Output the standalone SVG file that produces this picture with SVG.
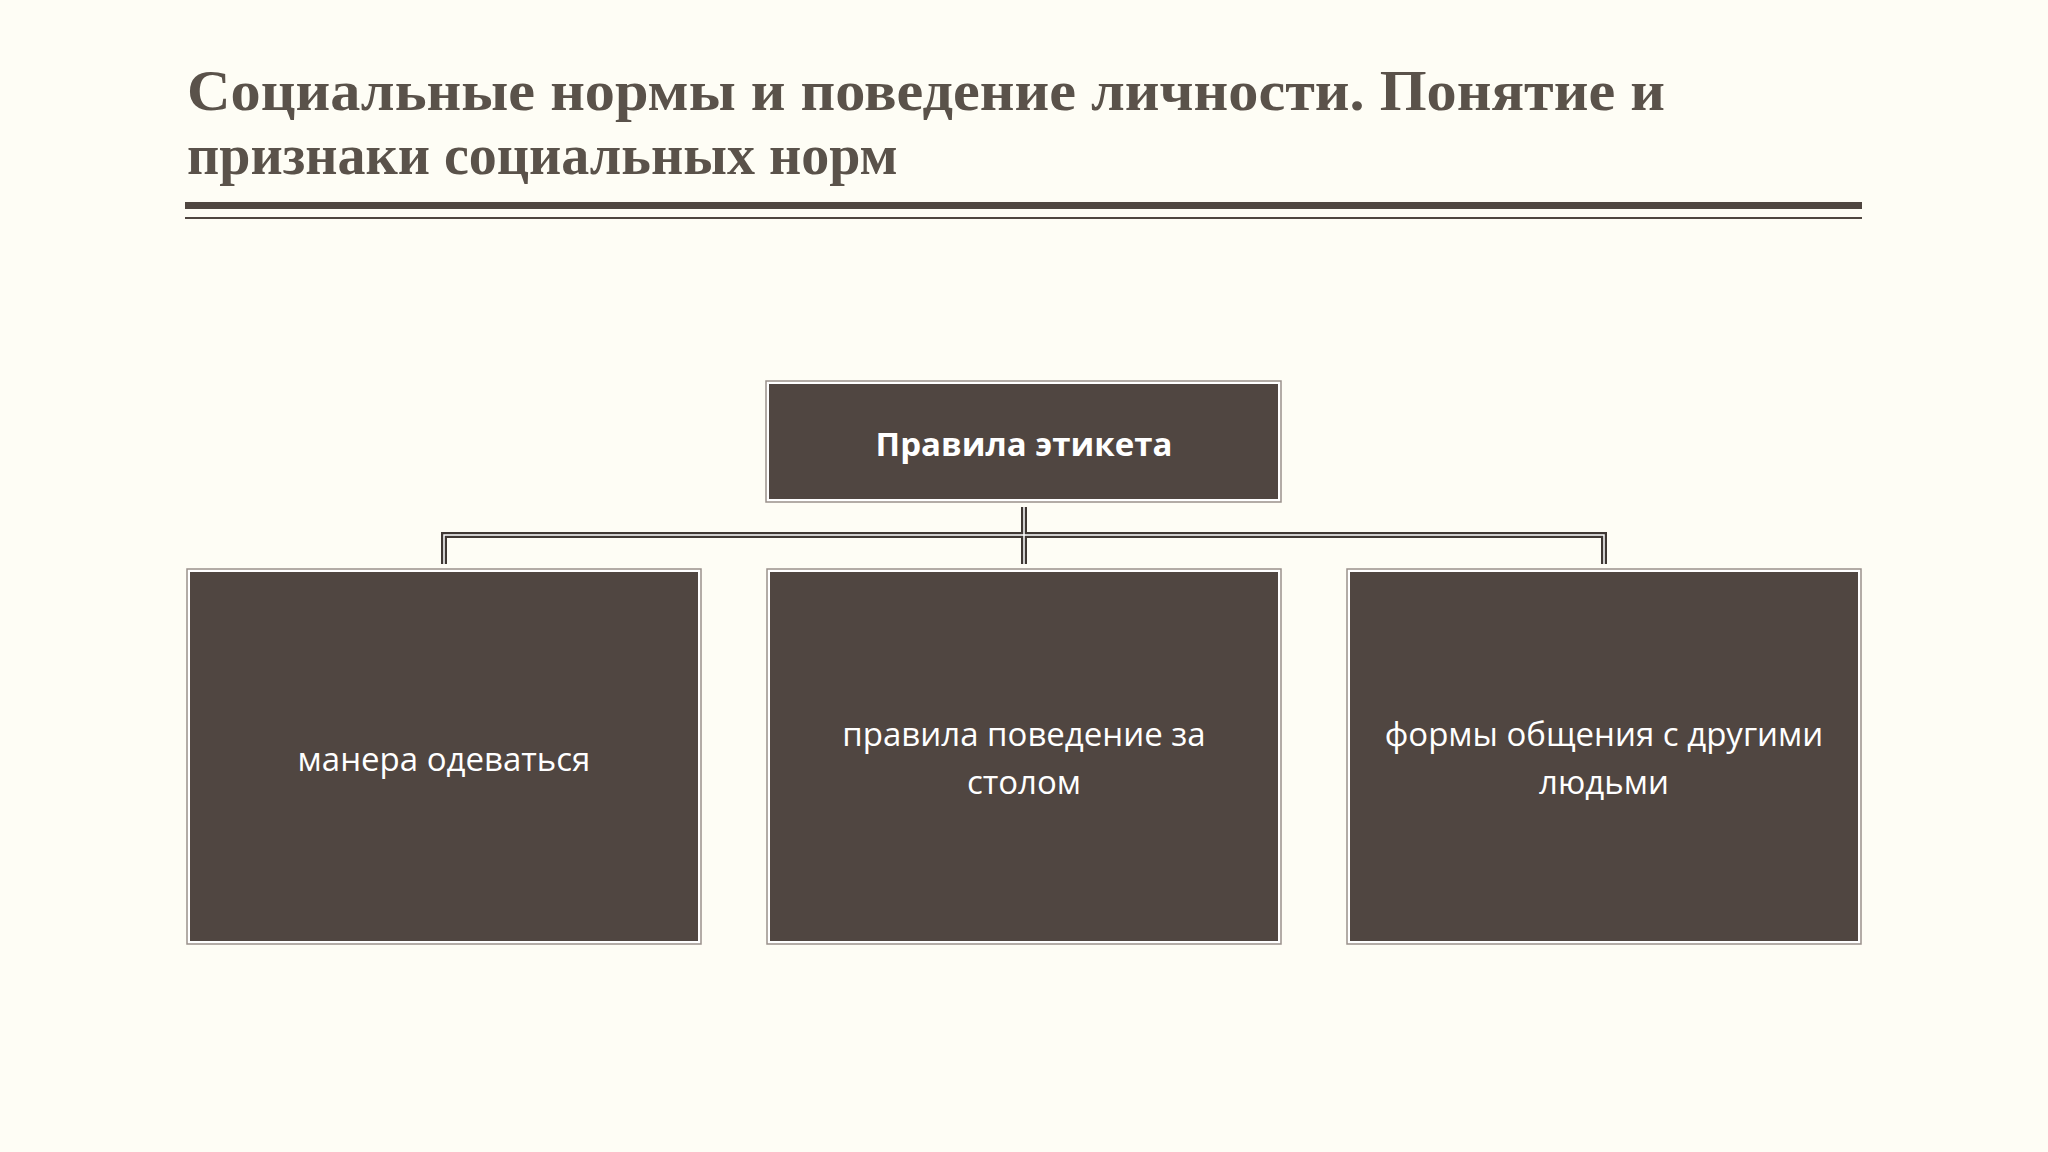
<svg xmlns="http://www.w3.org/2000/svg" width="2048" height="1152" viewBox="0 0 2048 1152">
<defs><style>
.box{fill:#504641;stroke:#ffffff;stroke-width:2;}
.edge{fill:none;stroke:#9a918c;stroke-width:1.5;}
.t{font-family:"Open Sans","Noto Sans","DejaVu Sans",sans-serif;fill:#ffffff;font-size:33px;text-anchor:middle;}
.title{font-family:"Liberation Serif","DejaVu Serif",serif;font-size:56px;font-weight:bold;fill:#5a524a;}
.c1{fill:none;stroke:#3f3834;stroke-width:6;}
.c2{fill:none;stroke:#ffffff;stroke-width:1.5;}
</style></defs>
<rect width="2048" height="1152" fill="#fefdf5"/>
<g id="title">
<text class="title" x="187" y="110" textLength="1478" lengthAdjust="spacingAndGlyphs">Социальные нормы и поведение личности. Понятие и</text>
<text class="title" x="187" y="174">признаки социальных норм</text>
<rect x="185" y="202" width="1677" height="7" fill="#4f4640"/>
<rect x="185" y="217" width="1677" height="2" fill="#4f4640"/>
</g>
<g id="connectors">
<path class="c1" d="M444 564 V535 H1604 V564 M1024 507 V564"/>
<path class="c2" d="M444 564 V535 H1604 V564 M1024 507 V564"/>
</g>
<g id="top">
<rect x="766" y="381" width="515" height="121" class="edge"/>
<rect x="768" y="383" width="511" height="117" class="box"/>
<text class="t" x="1024" y="456" font-weight="bold" font-size="36">Правила  этикета</text>
</g>
<g id="n1">
<rect x="187" y="569" width="514" height="375" class="edge"/>
<rect x="189" y="571" width="510" height="371" class="box"/>
<text class="t" x="444" y="771">манера  одеваться</text>
</g>
<g id="n2">
<rect x="767" y="569" width="514" height="375" class="edge"/>
<rect x="769" y="571" width="510" height="371" class="box"/>
<text class="t" x="1024" y="746">правила  поведение  за</text>
<text class="t" x="1024" y="794">столом</text>
</g>
<g id="n3">
<rect x="1347" y="569" width="514" height="375" class="edge"/>
<rect x="1349" y="571" width="510" height="371" class="box"/>
<text class="t" x="1604" y="746">формы  общения  с  другими</text>
<text class="t" x="1604" y="794">людьми</text>
</g>
</svg>
